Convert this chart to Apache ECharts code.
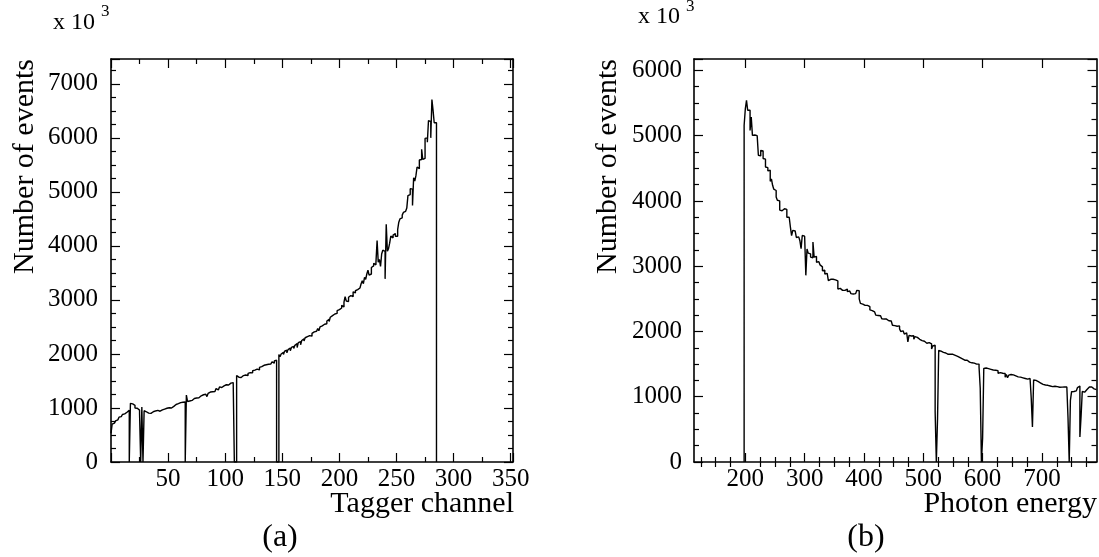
<!DOCTYPE html>
<html><head><meta charset="utf-8">
<script src="https://cdn.jsdelivr.net/npm/echarts@6/dist/echarts.min.js"></script>
<style>html,body{margin:0;padding:0;background:#fff}#c{width:1099px;height:557px}</style>
</head><body><div id="c"></div>
<script>
// ---- Panel (a): counts per tagger channel (x10^3), bins of 1 channel starting at 0
const taggerStart = 0;
const taggerBinWidth = 1;
const taggerCounts = [
  530, 700, 720, 705, 760, 780, 800, 830, 840, 860,
  880, 890, 905, 920, 950, 960, 0, 1085, 1075, 1060,
  1050, 1000, 995, 1000, 960, 900, 0, 1020, 0, 950,
  930, 925, 905, 915, 900, 920, 930, 925, 945, 940,
  955, 950, 940, 960, 965, 955, 980, 975, 995, 990,
  1005, 1015, 1000, 1035, 1030, 1050, 1065, 1055, 1080, 1090,
  1100, 1115, 1105, 1140, 1110, 0, 1240, 1120, 1130, 1150,
  1140, 1165, 1175, 1160, 1185, 1200, 1190, 1215, 1225, 1200,
  1245, 1230, 1255, 1275, 1210, 1270, 1295, 1280, 1300, 1320,
  1305, 1340, 1360, 1335, 1365, 1390, 1380, 1400, 1410, 1395,
  1430, 1445, 1425, 1450, 1460, 1445, 1470, 1480, 0, 0,
  1600, 1570, 1580, 1565, 1590, 1600, 1585, 1610, 1625, 1600,
  1640, 1655, 1670, 1650, 1690, 1700, 1685, 1720, 1730, 1705,
  1750, 1765, 1740, 1790, 1780, 1800, 1770, 1810, 1830, 1815,
  1840, 1855, 1830, 1870, 1885, 0, 0, 1990, 1950, 2000,
  2030, 1990, 2050, 2070, 2020, 2080, 2110, 2060, 2120, 2140,
  2100, 2160, 2190, 2120, 2210, 2230, 2170, 2250, 2280, 2240,
  2300, 2320, 2290, 2340, 2360, 2330, 2380, 2410, 2390, 2420,
  2440, 2470, 2430, 2500, 2520, 2490, 2550, 2580, 2560, 2610,
  2640, 2600, 2680, 2710, 2690, 2740, 2770, 2750, 2800, 2820,
  2790, 2850, 2900, 2870, 2960, 3060, 2980, 2970, 3050, 3080,
  3090, 3060, 3150, 3130, 3170, 3190, 3160, 3220, 3250, 3300,
  3355, 3300, 3420, 3380, 3480, 3550, 3460, 3480, 3600, 3630,
  3680, 3650, 3700, 4100, 3700, 3750, 3620, 3850, 3920, 3900,
  3390, 4400, 3900, 3950, 4050, 4180, 4150, 4200, 4230, 4180,
  4180, 4300, 4440, 4500, 4520, 4570, 4620, 4640, 4670, 4700,
  4930, 4950, 5060, 5050, 4750, 5260, 5200, 5300, 5460, 5430,
  5590, 5600, 5790, 5600, 5620, 5990, 6000, 5920, 6320, 6300,
  6000, 6710, 6510, 6280, 6280
];
const taggerXTicks = [0, 50, 100, 150, 200, 250, 300, 350];

// ---- Panel (b): counts per photon energy (x10^3), bins of 2 starting at 198
const energyStart = 198;
const energyBinWidth = 2;
const energyCounts = [
  5160, 5410, 5540, 5390, 5390, 5080, 5285, 5005, 5010, 4995,
  5000, 4990, 4700, 4690, 4775, 4765, 4650, 4640, 4520, 4510,
  4460, 4470, 4300, 4340, 4240, 4180, 4160, 4060, 4010, 4000,
  3860, 3850, 3860, 3880, 3870, 3870, 3750, 3750, 3760, 3600,
  3470, 3550, 3540, 3560, 3440, 3450, 3440, 3390, 3270, 3470,
  3460, 3440, 2860, 3265, 3200, 3190, 3140, 3130, 3370, 3140,
  3150, 3060, 3070, 3060, 3020, 2990, 2930, 2940, 2880, 2890,
  2870, 2780, 2800, 2810, 2800, 2810, 2790, 2780, 2775, 2650,
  2660, 2650, 2630, 2625, 2630, 2620, 2650, 2610, 2620, 2600,
  2580, 2575, 2570, 2580, 2560, 2630, 2625, 2500, 2430, 2420,
  2425, 2400, 2395, 2400, 2390, 2380, 2330, 2320, 2330, 2300,
  2310, 2250, 2245, 2260, 2240, 2240, 2195, 2190, 2200, 2190,
  2170, 2165, 2175, 2160, 2165, 2095, 2090, 2100, 2080, 2095,
  2085, 2040, 2000, 2010, 1990, 1960, 1980, 1975, 1840, 1940,
  1930, 1930, 1935, 1880, 1920, 1910, 1900, 1880, 1890, 1860,
  1870, 1850, 1860, 1820, 1840, 1830, 1800, 1810, 1730, 1780,
  1790, 770, 0, 650, 1710, 1700, 1690, 1680, 1690, 1670,
  1660, 1650, 1660, 1650, 1645, 1650, 1630, 1635, 1630, 1620,
  1610, 1600, 1590, 1580, 1570, 1560, 1555, 1560, 1540, 1530,
  1525, 1520, 1510, 1515, 1505, 1500, 1505, 1500, 1455, 1130,
  0, 363, 1435, 1440, 1420, 1430, 1415, 1420, 1430, 1410,
  1400, 1405, 1395, 1400, 1360, 1370, 1380, 1360, 1370, 1355,
  1300, 1340, 1290, 1330, 1340, 1320, 1335, 1310, 1320, 1300,
  1305, 1310, 1300, 1295, 1290, 1285, 1280, 1290, 1270, 1275,
  1280, 1280, 975, 536, 1256, 1250, 1240, 1230, 1235, 1210,
  1200, 1190, 1195, 1180, 1170, 1175, 1160, 1165, 1150, 1155,
  1150, 1160, 1150, 1155, 1150, 1145, 1150, 1148, 1140, 1150,
  1145, 1150, 1154, 669, 0, 945, 1077, 1080, 1100, 1090,
  1120, 1140, 1165, 383, 700, 1080, 1070, 1100, 1110, 1140,
  1150, 1130, 1150, 1140, 1120, 1130, 1110
];
const energyMajorTicks = [200, 300, 400, 500, 600, 700];
const energyMinorTicks = [125, 150, 175, 225, 250, 275, 325, 350, 375, 425, 450, 475,
  525, 550, 575, 625, 650, 675, 725, 750, 775];

const leftYTicks = [0, 1000, 2000, 3000, 4000, 5000, 6000, 7000];
const rightYTicks = [0, 1000, 2000, 3000, 4000, 5000, 6000];

function stepPoints(start, width, counts, closeStart, closeEnd) {
  const pts = [];
  if (closeStart) pts.push([start, 0]);
  counts.forEach((v, i) => {
    const lo = start + i * width, hi = lo + width;
    pts.push([lo, v], [hi, v]);
  });
  if (closeEnd) pts.push([start + counts.length * width, 0]);
  return pts;
}

const FONT = '"Liberation Serif", "Times New Roman", serif';
const BLACK = '#000';
const lineAxis = { show: true, onZero: false, lineStyle: { color: BLACK, width: 1.6 } };
const lbl = { fontFamily: FONT, fontSize: 25, color: BLACK };

const chart = echarts.init(document.getElementById('c'), null, { renderer: 'canvas' });
chart.setOption({
  animation: false,
  backgroundColor: '#fff',
  grid: [
    { left: 111, top: 59, width: 402, height: 403 },
    { left: 694, top: 59, width: 402.5, height: 403 }
  ],
  xAxis: [
    { gridIndex: 0, type: 'value', position: 'bottom', min: 0, max: 352, interval: 50,
      axisLine: lineAxis, splitLine: { show: false },
      axisTick: { show: true, inside: true, length: 9, lineStyle: { color: BLACK, width: 1.2 } },
      minorTick: { show: true, splitNumber: 2, length: 5, lineStyle: { color: BLACK, width: 1.2 } },
      axisLabel: Object.assign({ margin: 5, formatter: v => (taggerXTicks.indexOf(v) > 0 ? String(v) : '') }, lbl) },
    { gridIndex: 0, type: 'value', position: 'top', min: 0, max: 352, interval: 50,
      axisLine: lineAxis, splitLine: { show: false },
      axisTick: { show: true, inside: true, length: 9, lineStyle: { color: BLACK, width: 1.2 } },
      minorTick: { show: true, splitNumber: 2, length: 5, lineStyle: { color: BLACK, width: 1.2 } },
      axisLabel: { show: false } },
    { gridIndex: 1, type: 'value', position: 'bottom', min: 113.5, max: 792,
      axisLine: lineAxis, splitLine: { show: false },
      axisTick: { show: true, inside: true, length: 9, customValues: energyMajorTicks, lineStyle: { color: BLACK, width: 1.2 } },
      axisLabel: Object.assign({ margin: 5, customValues: energyMajorTicks }, lbl) },
    { gridIndex: 1, type: 'value', position: 'bottom', min: 113.5, max: 792,
      axisLine: { show: false }, splitLine: { show: false },
      axisTick: { show: true, inside: true, length: 5, customValues: energyMinorTicks, lineStyle: { color: BLACK, width: 1.2 } },
      axisLabel: { show: false } },
    { gridIndex: 1, type: 'value', position: 'top', min: 113.5, max: 792,
      axisLine: lineAxis, splitLine: { show: false },
      axisTick: { show: true, inside: true, length: 9, customValues: energyMajorTicks, lineStyle: { color: BLACK, width: 1.2 } },
      axisLabel: { show: false } },
    { gridIndex: 1, type: 'value', position: 'top', min: 113.5, max: 792,
      axisLine: { show: false }, splitLine: { show: false },
      axisTick: { show: true, inside: true, length: 5, customValues: energyMinorTicks, lineStyle: { color: BLACK, width: 1.2 } },
      axisLabel: { show: false } }
  ],
  yAxis: [
    { gridIndex: 0, type: 'value', position: 'left', min: 0, max: 7460, interval: 1000,
      axisLine: lineAxis, splitLine: { show: false },
      axisTick: { show: true, inside: true, length: 9, lineStyle: { color: BLACK, width: 1.2 } },
      minorTick: { show: true, splitNumber: 4, length: 5, lineStyle: { color: BLACK, width: 1.2 } },
      axisLabel: Object.assign({ margin: 13, formatter: v => (leftYTicks.indexOf(v) >= 0 ? String(v) : '') }, lbl) },
    { gridIndex: 0, type: 'value', position: 'right', min: 0, max: 7460, interval: 1000,
      axisLine: lineAxis, splitLine: { show: false },
      axisTick: { show: true, inside: true, length: 9, lineStyle: { color: BLACK, width: 1.2 } },
      minorTick: { show: true, splitNumber: 4, length: 5, lineStyle: { color: BLACK, width: 1.2 } },
      axisLabel: { show: false } },
    { gridIndex: 1, type: 'value', position: 'left', min: 0, max: 6175, interval: 1000,
      axisLine: lineAxis, splitLine: { show: false },
      axisTick: { show: true, inside: true, length: 9, lineStyle: { color: BLACK, width: 1.2 } },
      minorTick: { show: true, splitNumber: 4, length: 5, lineStyle: { color: BLACK, width: 1.2 } },
      axisLabel: Object.assign({ margin: 12, formatter: v => (rightYTicks.indexOf(v) >= 0 ? String(v) : '') }, lbl) },
    { gridIndex: 1, type: 'value', position: 'right', min: 0, max: 6175, interval: 1000,
      axisLine: lineAxis, splitLine: { show: false },
      axisTick: { show: true, inside: true, length: 9, lineStyle: { color: BLACK, width: 1.2 } },
      minorTick: { show: true, splitNumber: 4, length: 5, lineStyle: { color: BLACK, width: 1.2 } },
      axisLabel: { show: false } }
  ],
  series: [
    { type: 'line', xAxisIndex: 0, yAxisIndex: 0, symbol: 'none', silent: true, clip: true,
      lineStyle: { color: BLACK, width: 1.4 },
      data: stepPoints(taggerStart, taggerBinWidth, taggerCounts, false, true) },
    { type: 'line', xAxisIndex: 2, yAxisIndex: 2, symbol: 'none', silent: true, clip: true,
      lineStyle: { color: BLACK, width: 1.4 },
      data: stepPoints(energyStart, energyBinWidth, energyCounts, true, false) }
  ],
  graphic: [
    { type: 'text', x: 25, y: 59, rotation: Math.PI / 2,
      style: { text: 'Number of events', font: '30px ' + FONT, fill: BLACK, textAlign: 'right', textVerticalAlign: 'middle' } },
    { type: 'text', x: 608, y: 59, rotation: Math.PI / 2,
      style: { text: 'Number of events', font: '30px ' + FONT, fill: BLACK, textAlign: 'right', textVerticalAlign: 'middle' } },
    { type: 'text', x: 514, y: 504,
      style: { text: 'Tagger channel', font: '30px ' + FONT, fill: BLACK, textAlign: 'right', textVerticalAlign: 'middle' } },
    { type: 'text', x: 1097, y: 504,
      style: { text: 'Photon energy', font: '30px ' + FONT, fill: BLACK, textAlign: 'right', textVerticalAlign: 'middle' } },
    { type: 'text', x: 280, y: 538,
      style: { text: '(a)', font: '32px ' + FONT, fill: BLACK, textAlign: 'center', textVerticalAlign: 'middle' } },
    { type: 'text', x: 866, y: 538,
      style: { text: '(b)', font: '32px ' + FONT, fill: BLACK, textAlign: 'center', textVerticalAlign: 'middle' } },
    { type: 'text', x: 53, y: 23,
      style: { text: 'x 10', font: '24px ' + FONT, fill: BLACK, textAlign: 'left', textVerticalAlign: 'middle' } },
    { type: 'text', x: 101, y: 12,
      style: { text: '3', font: '17px ' + FONT, fill: BLACK, textAlign: 'left', textVerticalAlign: 'middle' } },
    { type: 'text', x: 638, y: 17,
      style: { text: 'x 10', font: '24px ' + FONT, fill: BLACK, textAlign: 'left', textVerticalAlign: 'middle' } },
    { type: 'text', x: 686, y: 7,
      style: { text: '3', font: '17px ' + FONT, fill: BLACK, textAlign: 'left', textVerticalAlign: 'middle' } }
  ]
});
</script>
</body></html>
